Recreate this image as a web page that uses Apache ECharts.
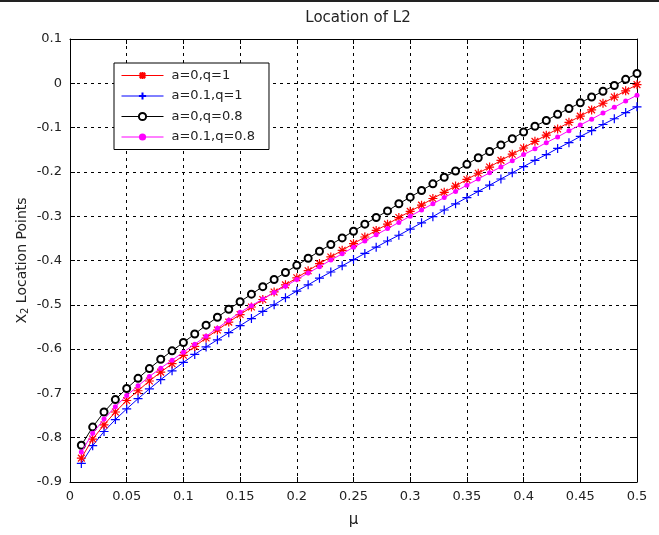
<!DOCTYPE html>
<html>
<head>
<meta charset="utf-8">
<script src="https://cdn.jsdelivr.net/npm/echarts@6/dist/echarts.min.js"></script>
<style>
html,body{margin:0;padding:0;background:#fff;}
#c{width:659px;height:535px;box-sizing:border-box;border-top:2px solid #222;}
</style>
</head>
<body>
<div id="c"></div>
<script>
var mu = [0.01,0.02,0.03,0.04,0.05,0.06,0.07,0.08,0.09,0.10,
          0.11,0.12,0.13,0.14,0.15,0.16,0.17,0.18,0.19,0.20,
          0.21,0.22,0.23,0.24,0.25,0.26,0.27,0.28,0.29,0.30,
          0.31,0.32,0.33,0.34,0.35,0.36,0.37,0.38,0.39,0.40,
          0.41,0.42,0.43,0.44,0.45,0.46,0.47,0.48,0.49,0.50];

var a0q1 = [-0.846,-0.803,-0.771,-0.742,-0.716,-0.694,-0.672,-0.652,-0.633,-0.614,
            -0.594,-0.575,-0.557,-0.539,-0.522,-0.505,-0.488,-0.471,-0.455,-0.439,
            -0.423,-0.407,-0.392,-0.377,-0.362,-0.347,-0.332,-0.318,-0.303,-0.289,
            -0.275,-0.260,-0.246,-0.232,-0.217,-0.203,-0.189,-0.174,-0.160,-0.146,
            -0.131,-0.117,-0.103,-0.088,-0.074,-0.060,-0.045,-0.031,-0.017,-0.003];

var a01q1 = [-0.858,-0.818,-0.786,-0.759,-0.735,-0.712,-0.690,-0.669,-0.649,-0.630,
             -0.612,-0.595,-0.579,-0.563,-0.547,-0.531,-0.515,-0.500,-0.484,-0.469,
             -0.455,-0.440,-0.426,-0.412,-0.398,-0.384,-0.370,-0.356,-0.343,-0.329,
             -0.315,-0.301,-0.286,-0.272,-0.258,-0.244,-0.230,-0.216,-0.202,-0.188,
             -0.174,-0.161,-0.147,-0.134,-0.120,-0.107,-0.093,-0.080,-0.066,-0.053];

var a0q08 = [-0.817,-0.776,-0.742,-0.714,-0.689,-0.666,-0.644,-0.623,-0.604,-0.585,
             -0.566,-0.546,-0.528,-0.510,-0.493,-0.476,-0.459,-0.443,-0.427,-0.411,
             -0.395,-0.379,-0.364,-0.349,-0.334,-0.318,-0.303,-0.288,-0.272,-0.257,
             -0.242,-0.227,-0.212,-0.198,-0.183,-0.168,-0.154,-0.139,-0.125,-0.110,
             -0.097,-0.084,-0.070,-0.057,-0.044,-0.031,-0.018,-0.005,0.009,0.022];

var a01q08 = [-0.832,-0.790,-0.758,-0.730,-0.705,-0.683,-0.662,-0.643,-0.625,-0.607,
              -0.589,-0.571,-0.553,-0.535,-0.517,-0.502,-0.487,-0.472,-0.458,-0.443,
              -0.428,-0.414,-0.399,-0.385,-0.370,-0.356,-0.342,-0.328,-0.314,-0.300,
              -0.286,-0.272,-0.258,-0.244,-0.230,-0.216,-0.202,-0.189,-0.175,-0.161,
              -0.148,-0.134,-0.121,-0.107,-0.094,-0.081,-0.067,-0.054,-0.040,-0.027];

var names = ['a=0,q=1','a=0.1,q=1','a=0,q=0.8','a=0.1,q=0.8'];
var xTicks = {min:0, max:0.5, step:0.05};
var yTicks = {min:-0.9, max:0.1, step:0.1};

function pairs(ys){ return mu.map(function(m,i){ return [m, ys[i]]; }); }

var FONT = 'DejaVu Sans';
var asterisk = 'path://M0,-10L0,10M-10,0L10,0M-7.5,-7.5L7.5,7.5M-7.5,7.5L7.5,-7.5';
var plus = 'path://M0,-10L0,10M-10,0L10,0';

var chart = echarts.init(document.getElementById('c'), null, {renderer:'canvas'});

function fmt(v){ return String(+(+v).toFixed(2)); }

var gridLine = {show:true, lineStyle:{color:'#000', type:[3,4], width:1}};
var boxLine = {show:true, onZero:false, lineStyle:{color:'#000', width:1}};
var inTick = {show:true, inside:true, length:5, lineStyle:{color:'#000'}};

chart.setOption({
  animation:false,
  backgroundColor:'#fff',
  title:{
    text:'Location of L2', left:353, top:4, textAlign:'center',
    textStyle:{fontFamily:FONT, fontSize:15, fontWeight:'normal', color:'#222'}
  },
  legend:{
    orient:'vertical', left:114, top:61,
    backgroundColor:'#fff', borderColor:'#000', borderWidth:1,
    padding:[6,14,6,7], itemGap:7.5, itemWidth:42, itemHeight:9,
    lineStyle:{width:1},
    textStyle:{fontFamily:FONT, fontSize:13, color:'#222', padding:[0,0,0,3]},
    data:names
  },
  grid:{left:70, right:22, top:37, bottom:53, containLabel:false},
  xAxis:[{
    type:'value', min:xTicks.min, max:xTicks.max, interval:xTicks.step,
    name:'μ', nameLocation:'middle', nameGap:31,
    nameTextStyle:{fontFamily:FONT, fontSize:15, color:'#222'},
    axisLine:boxLine, axisTick:inTick,
    axisLabel:{fontFamily:FONT, fontSize:13, color:'#222', margin:8, formatter:fmt},
    splitLine:gridLine
  },{
    type:'value', position:'top', min:xTicks.min, max:xTicks.max, interval:xTicks.step,
    axisLine:boxLine, axisTick:inTick,
    axisLabel:{show:false}, splitLine:{show:false}
  }],
  yAxis:[{
    type:'value', min:yTicks.min, max:yTicks.max, interval:yTicks.step,
    name:'{x|X}{s|2}{x| Location Points}', nameLocation:'middle', nameGap:40, nameRotate:90,
    nameMoveOverlap:false,
    nameTextStyle:{fontFamily:FONT, fontSize:14, color:'#222',
      rich:{x:{fontFamily:FONT, fontSize:14, color:'#222'}, s:{fontFamily:FONT, fontSize:10, color:'#222', verticalAlign:'bottom', padding:[6,0,0,0]}}},
    axisLine:boxLine, axisTick:inTick,
    axisLabel:{fontFamily:FONT, fontSize:13, color:'#222', margin:8, formatter:fmt},
    splitLine:gridLine
  },{
    type:'value', position:'right', min:yTicks.min, max:yTicks.max, interval:yTicks.step,
    axisLine:boxLine, axisTick:inTick,
    axisLabel:{show:false}, splitLine:{show:false}
  }],
  series:[
    {name:names[0], type:'line', data:pairs(a0q1), symbol:asterisk, symbolSize:9,
     lineStyle:{color:'#ff0000', width:1},
     itemStyle:{color:'#ff0000', borderColor:'#ff0000', borderWidth:1.2}, z:3},
    {name:names[1], type:'line', data:pairs(a01q1), symbol:plus, symbolSize:9,
     lineStyle:{color:'#0000ff', width:1},
     itemStyle:{color:'#0000ff', borderColor:'#0000ff', borderWidth:1.2}, z:2},
    {name:names[2], type:'line', data:pairs(a0q08), symbol:'emptyCircle', symbolSize:7,
     lineStyle:{color:'#000', width:1},
     itemStyle:{color:'#000', borderColor:'#000', borderWidth:1}, z:4},
    {name:names[3], type:'line', data:pairs(a01q08), symbol:'circle', symbolSize:5,
     lineStyle:{color:'#ff00ff', width:1},
     itemStyle:{color:'#ff00ff'}, z:5}
  ]
});
</script>
</body>
</html>
